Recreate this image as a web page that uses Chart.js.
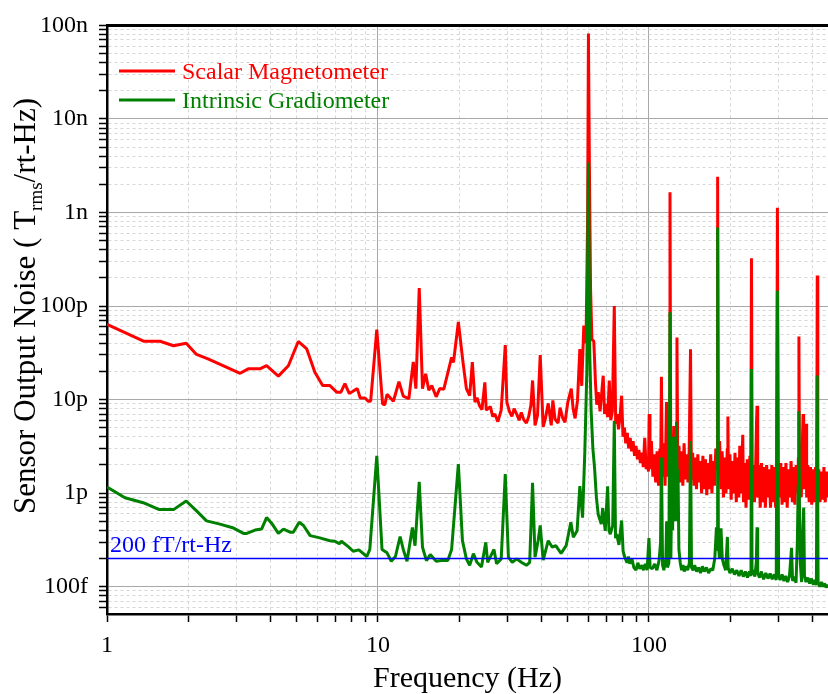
<!DOCTYPE html>
<html>
<head>
  <meta charset="utf-8">
  <title>Sensor Output Noise</title>
  <script src="https://cdn.jsdelivr.net/npm/chart.js@4"></script>
  <style>
    body { margin: 0; background: #fff; }
    #wrap { width: 828px; height: 694px; }
  </style>
</head>
<body>
  <div id="wrap"><canvas id="noiseChart" width="828" height="694"></canvas></div>

  <script>
    // noise values are in fT/rt-Hz, frequencies in Hz
    const redFreq = [
      1.0, 1.37, 1.57, 1.76, 1.96, 2.14, 2.37, 3.1, 3.32, 3.67, 3.88, 4.29, 4.67, 5.08, 5.46, 5.85, 6.25, 6.65,
      7.04, 7.3, 7.55, 7.84, 8.39, 8.6, 8.96, 9.2, 9.4, 9.9, 10.4, 10.6, 10.8, 11.4, 11.95, 12.4, 13.0, 13.5,
      13.8, 14.2, 14.6, 15.0, 15.4, 15.8, 16.4, 16.9, 17.5, 18.7, 19.0, 19.8, 20.6, 21.2, 21.8, 22.3, 22.8,
      23.2, 23.7, 24.2, 24.8, 25.1, 26.0, 26.5, 27.0, 27.7, 28.5, 29.5, 29.9, 30.6, 31.2, 31.8, 32.5, 33.2,
      33.8, 34.5, 35.3, 36.0, 36.7, 37.2, 38.0, 38.8, 39.7, 40.7, 41.5, 42.5, 43.6, 44.2, 45.0, 46.2, 47.0,
      48.1, 49.0, 50.2, 51.7, 52.5, 53.4, 54.5, 55.6, 56.5, 57.5, 58.6, 59.4, 59.8, 60.3, 60.9, 61.6, 62.6,
      63.5, 64.2, 65.0, 66.0, 66.8, 67.8, 68.6, 69.5, 70.4, 71.4, 72.3, 73.3, 74.5, 75.4, 76.3, 77.2, 78.2,
      79.3, 80.2, 81.2, 82.1, 83.2, 84.2, 85.3, 86.3, 87.4, 88.5, 89.6, 90.7, 91.8, 93.0, 94.2, 95.3, 96.5,
      97.7, 98.9, 99.6, 100.2, 100.9, 102.1, 103.4, 104.6, 105.9, 107.2, 108.5, 109.8, 110.4, 111.2, 112.0,
      113.3, 114.7, 116.1, 117.5, 118.8, 119.6, 120.4, 121.4, 122.5, 123.6, 124.8, 126.0, 126.9, 127.8, 129.1,
      130.5, 131.9, 133.4, 134.8, 136.3, 137.8, 139.3, 140.8, 142.4, 143.5, 145.0, 146.6, 148.2, 149.8, 151.5,
      153.1, 154.8, 156.5, 158.2, 160.0, 161.7, 163.5, 165.3, 167.1, 169.0, 170.8, 172.7, 174.6, 176.5, 178.4,
      179.3, 180.3, 182.3, 184.3, 186.3, 188.4, 190.4, 192.5, 194.6, 195.6, 196.8, 199.0, 201.1, 203.3, 205.6,
      207.8, 210.1, 212.4, 214.7, 216.4, 218.1, 220.5, 222.0, 223.3, 225.7, 228.2, 230.7, 233.2, 235.8, 237.5,
      239.0, 240.5, 242.5, 245.2, 247.9, 249.4, 250.6, 252.0, 254.7, 257.5, 260.3, 263.2, 266.1, 269.0, 271.9,
      274.9, 277.9, 281.0, 284.1, 287.2, 290.3, 293.5, 296.0, 298.0, 300.0, 303.3, 306.6, 310.0, 313.4, 316.8,
      320.3, 323.8, 327.4, 331.0, 334.6, 338.3, 342.0, 345.7, 349.5, 353.3, 356.2, 357.7, 359.5, 362.0, 365.0,
      368.0, 370.5, 372.5, 376.5, 380.0, 382.0, 386.0, 390.3, 394.6, 398.9, 403.3, 407.7, 412.2, 416.0, 418.0,
      420.0, 423.5, 428.1, 432.8, 437.6, 442.4, 447.3, 452.2, 457.2, 462.0
    ];
    const redNoise = [
      63700, 42000, 42000, 37600, 40000, 30400, 27100, 19100, 21300, 21300, 23000, 17800, 23000, 41800, 34800, 19600, 14100, 14100,
      12000, 12000, 14800, 11600, 13100, 10400, 10400, 9600, 9600, 56000, 9000, 8800, 11400, 9600, 15500, 10900, 10200, 25200,
      13100, 156000, 13100, 18900, 12600, 14100, 10700, 13100, 12900, 28200, 25000, 67500, 25000, 13100, 11000, 25200, 9400,
      10500, 8600, 7800, 15300, 7700, 8400, 6600, 7000, 5800, 7700, 38200, 9400, 7400, 6600, 8000, 7000, 6000,
      7300, 6100, 5600, 6600, 8800, 16000, 5300, 6800, 29900, 5100, 6300, 9100, 5300, 9800, 6200, 5600, 8200,
      6300, 5700, 9400, 13100, 8000, 6300, 9800, 34600, 14000, 62000, 40000, 900000, 81700000, 3000000, 150000, 44000, 42000,
      15000, 8800, 12000, 7500, 11000, 18000, 7000, 9000, 6500, 16000, 6000, 7500, 100000, 5500, 7000, 4800, 6500,
      11000, 4000, 5000, 3400, 4400, 3000, 3900, 2800, 3600, 2500, 3200, 2300, 2900, 2100, 2700, 1900, 3900,
      1800, 2400, 1700, 7000, 1800, 3600, 1500, 2600, 1300, 2800, 1200, 3000, 1400, 17500, 1500,
      3400, 1200, 9400, 1500, 2500, 1650000, 2200, 4000, 1300, 5200, 1500, 3000, 46000, 1600, 3200,
      1300, 2800, 1200, 3400, 1400, 2600, 1300, 2900, 34400, 1400, 2700, 1200, 2400, 1100, 2600,
      1300, 2200, 1000, 2500, 1100, 2300, 950, 2100, 1100, 2600, 1000, 2200, 1200, 3000, 1800,
      2410000, 2000, 3600, 1100, 2800, 900, 2400, 1000, 3000, 6600, 1100, 2600, 850, 2200, 1000,
      2700, 800, 2400, 900, 3200, 1000, 2300, 4200, 800, 2100, 700, 2300, 850, 2500, 1000,
      324000, 1200, 2000, 800, 2200, 5500, 8600, 900, 2000, 700, 2100, 800, 1900, 700, 2000,
      900, 1800, 700, 2000, 800, 1900, 700, 2200, 1120000, 1500, 900, 2100, 750, 1900, 800,
      2100, 700, 1800, 900, 2200, 800, 1900, 750, 2000, 1000, 2400, 47200, 1200, 2600, 900,
      3000, 7000, 1100, 2500, 5500, 900, 2000, 800, 1900, 750, 1800, 800, 1900, 900, 212000,
      1100, 1800, 800, 1700, 850, 1900, 800, 1700, 900, 1500
    ];

    const greenFreq = [
      1.0, 1.165, 1.36, 1.56, 1.76, 1.96, 2.14, 2.33, 2.61, 2.93, 3.19, 3.28, 3.52, 3.72, 3.88, 4.05, 4.29, 4.48,
      4.74, 4.87, 5.12, 5.31, 5.62, 6.1, 6.65, 6.94, 7.2, 7.33, 7.77, 8.1, 8.5, 9.1, 9.33, 9.9, 10.35, 10.8,
      11.2, 11.6, 12.07, 12.4, 12.8, 13.4, 13.7, 14.2, 14.6, 15.1, 15.6, 16.4, 17.4, 18.1, 18.7, 19.8, 20.5,
      21.2, 21.8, 22.5, 23.2, 24.1, 25.0, 25.4, 26.8, 27.4, 28.5, 29.5, 30.3, 31.3, 32.5, 33.8, 35.3, 36.3,
      37.2, 38.0, 39.0, 39.7, 40.7, 42.5, 44.0, 45.3, 47.4, 49.5, 51.5, 52.6, 54.3, 55.6, 56.9, 58.0, 59.0,
      59.8, 60.5, 61.2, 62.1, 63.0, 64.0, 65.0, 66.7, 67.5, 69.0, 70.4, 71.2, 72.0, 73.5, 74.5, 75.3, 76.0,
      77.5, 79.3, 80.3, 81.5, 83.0, 84.0, 85.0, 86.5, 88.0, 89.6, 91.0, 92.5, 94.2, 95.5, 97.0, 98.5, 100.0,
      101.0, 103.0, 105.0, 107.0, 109.0, 110.4, 111.2, 112.3, 113.5, 115.5, 116.2, 117.0, 118.5, 119.6, 120.5,
      121.5, 122.3, 123.0, 123.8, 124.6, 125.5, 126.4, 127.2, 128.0, 129.0, 130.5, 132.0, 133.5, 135.0, 137.0,
      139.0, 141.0, 142.4, 143.6, 145.5, 147.5, 150.0, 152.5, 155.0, 157.5, 160.0, 163.0, 166.0, 169.0, 172.0,
      175.0, 177.5, 178.5, 179.3, 180.4, 182.0, 184.5, 186.5, 189.0, 192.0, 194.8, 196.0, 199.0, 203.0, 207.0,
      211.0, 215.0, 219.0, 223.0, 227.0, 231.0, 235.0, 238.0, 239.0, 240.2, 243.0, 246.0, 249.0, 250.6, 252.0,
      256.0, 260.0, 265.0, 270.0, 275.0, 280.0, 285.0, 290.0, 295.0, 298.0, 301.0, 305.0, 310.0, 315.0, 320.0,
      325.0, 330.0, 336.0, 339.0, 344.0, 349.0, 353.0, 355.5, 357.7, 359.5, 362.0, 366.0, 370.0, 372.5, 375.0,
      380.0, 386.0, 392.0, 398.0, 404.0, 410.0, 415.0, 418.0, 421.0, 427.0, 433.0, 439.0, 445.0, 451.0, 457.0,
      462.0
    ];
    const greenNoise = [
      1160, 891, 789, 666, 666, 823, 645, 505, 466, 423, 371, 371, 403, 413, 547, 477, 371, 413,
      382, 382, 488, 451, 351, 332, 310, 306, 287, 306, 268, 239, 247, 210, 250, 2500, 250, 230,
      187, 210, 342, 250, 187, 429, 274, 1318, 264, 190, 220, 187, 192, 190, 250, 2044, 310,
      198, 169, 225, 182, 162, 298, 182, 250, 176, 198, 1601, 207, 182, 198, 182, 169, 182,
      1286, 207, 310, 451, 192, 310, 264, 274, 227, 274, 488, 337, 395, 1186, 547, 2785, 20000,
      3430000, 30000, 7600, 3000, 1860, 900, 590, 466, 690, 395, 1180, 400, 364, 450, 5900, 330, 364,
      280, 510, 240, 205, 180, 210, 176, 200, 160, 150, 180, 155, 169, 150, 175, 150, 330,
      160, 156, 175, 150, 190, 300, 2400, 170, 150, 200, 500, 160, 180, 86000, 200,
      1500, 400, 4000, 800, 2500, 500, 5800, 900, 1800, 250, 180, 150, 170, 145, 165,
      150, 180, 3600, 160, 150, 170, 145, 160, 140, 165, 145, 160, 140, 155, 150,
      200, 430, 250, 690000, 300, 200, 420, 200, 170, 150, 340, 160, 140, 155, 135,
      150, 130, 150, 128, 145, 125, 145, 130, 21200, 135, 150, 128, 180, 430, 140,
      125, 145, 120, 140, 122, 138, 120, 135, 118, 146000, 130, 118, 135, 115, 130,
      112, 128, 260, 115, 128, 110, 300, 1200, 7500, 700, 180, 112, 400, 700, 130,
      112, 125, 108, 122, 105, 118, 104, 18100, 110, 100, 112, 100, 108, 98, 104,
      100
    ];

    const floorLevel = 200; // 200 fT/rt-Hz reference line
    const floorLabel = '200 fT/rt-Hz';
    const seriesLabels = ['Scalar Magnetometer', 'Intrinsic Gradiometer'];

    // axis ticks
    const xTicks = [1, 2, 3, 4, 5, 6, 7, 8, 9, 10, 20, 30, 40, 50, 60, 70, 80, 90, 100, 200, 300, 400];
    const xMajorTicks = [1, 10, 100];
    const yMajorTicks = [100, 1e3, 1e4, 1e5, 1e6, 1e7, 1e8];
    const yMajorLabels = ['100f', '1p', '10p', '100p', '1n', '10n', '100n'];

    const yTicks = [60, 70, 80, 90];
    yMajorTicks.slice(0, -1).forEach(d => {
      for (let m = 1; m <= 9; m++) yTicks.push(m * d);
    });
    yTicks.push(1e8);

    const serif = "'Liberation Serif', 'Times New Roman', serif";

    function toPoints(xs, ys) {
      return xs.map((x, i) => ({ x: x, y: ys[i] }));
    }

    // grid: major lines solid grey, minor lines dashed light grey
    const gridColor = c => (c.tick && c.tick.major) ? '#a8a8a8' : '#d6d6d6';
    const gridDash = c => (c.type === 'tick' && c.tick && !c.tick.major) ? [3, 3] : [];

    // legend, floor label and the y title with its subscript
    const annotations = {
      id: 'annotations',
      afterDraw(chart) {
        const ctx = chart.ctx;
        const sets = chart.data.datasets;
        ctx.save();

        ctx.font = '24px ' + serif;
        ctx.textAlign = 'left';
        ctx.textBaseline = 'alphabetic';
        [0, 1].forEach((i, row) => {
          const y = 71 + row * 29;
          ctx.strokeStyle = sets[i].borderColor;
          ctx.lineWidth = 3;
          ctx.beginPath();
          ctx.moveTo(119, y);
          ctx.lineTo(175, y);
          ctx.stroke();
          ctx.fillStyle = sets[i].borderColor;
          ctx.fillText(sets[i].label, 182, y + 8);
        });

        const yFloor = chart.scales.y.getPixelForValue(floorLevel);
        ctx.fillStyle = '#0000ff';
        ctx.fillText(floorLabel, 110, yFloor - 6);

        // rotated y axis title
        ctx.translate(35, 306);
        ctx.rotate(-Math.PI / 2);
        ctx.fillStyle = '#000';
        const big = '31px ' + serif;
        const small = '19px ' + serif;
        const partA = 'Sensor Output Noise ( T';
        const partSub = 'rms';
        const partB = '/rt-Hz)';
        ctx.font = big;
        const wA = ctx.measureText(partA).width;
        const wB = ctx.measureText(partB).width;
        ctx.font = small;
        const wSub = ctx.measureText(partSub).width;
        let x0 = -(wA + wSub + wB) / 2;
        ctx.font = big;
        ctx.fillText(partA, x0, 0);
        x0 += wA;
        ctx.font = small;
        ctx.fillText(partSub, x0, 7);
        x0 += wSub;
        ctx.font = big;
        ctx.fillText(partB, x0, 0);

        ctx.restore();
      }
    };

    const noiseChart = new Chart(document.getElementById('noiseChart'), {
      type: 'line',
      data: {
        datasets: [
          {
            label: seriesLabels[0],
            data: toPoints(redFreq, redNoise),
            borderColor: '#ff0000',
            borderWidth: 3,
            order: 3
          },
          {
            label: seriesLabels[1],
            data: toPoints(greenFreq, greenNoise),
            borderColor: '#008000',
            borderWidth: 3,
            order: 2
          },
          {
            label: floorLabel,
            data: [{ x: xTicks[0], y: floorLevel }, { x: 1000, y: floorLevel }],
            borderColor: '#0000ff',
            borderWidth: 1.5,
            order: 1
          }
        ]
      },
      options: {
        responsive: false,
        animation: false,
        events: [],
        elements: {
          point: { radius: 0 },
          line: { tension: 0, borderJoinStyle: 'bevel', fill: false }
        },
        layout: { padding: { top: 20, left: 0, right: 0, bottom: 0 } },
        plugins: {
          legend: { display: false },
          tooltip: { enabled: false }
        },
        scales: {
          x: {
            type: 'logarithmic',
            position: 'bottom',
            min: 1,
            max: 458,
            afterBuildTicks: s => {
              s.ticks = xTicks.map(v => ({ value: v, major: xMajorTicks.includes(v) }));
            },
            afterFit: s => { s.height = 80; },
            ticks: {
              autoSkip: false,
              maxRotation: 0,
              padding: 9,
              color: '#000',
              font: { family: serif, size: 24, lineHeight: 1.2 },
              callback: v => xMajorTicks.includes(v) ? String(v) : ''
            },
            grid: {
              color: gridColor,
              lineWidth: 1,
              tickLength: 8,
              tickColor: '#000',
              tickWidth: 1.5
            },
            border: { display: true, color: '#000', width: 2.5, dash: gridDash },
            title: {
              display: true,
              text: 'Frequency (Hz)',
              color: '#000',
              font: { family: serif, size: 30, lineHeight: 1 },
              padding: 0
            }
          },
          xTop: {
            type: 'linear',
            position: 'top',
            min: 0,
            max: 1,
            afterFit: s => { s.height = 0; },
            ticks: { display: false },
            grid: { display: false, drawTicks: false },
            border: { display: true, color: '#000', width: 3 }
          },
          y: {
            type: 'logarithmic',
            position: 'left',
            min: 51,
            max: 1e8,
            afterBuildTicks: s => {
              s.ticks = yTicks.map(v => ({ value: v, major: yMajorTicks.includes(v) }));
            },
            afterFit: s => { s.width = 107; },
            ticks: {
              autoSkip: false,
              padding: 11,
              color: '#000',
              font: { family: serif, size: 24 },
              callback: v => {
                const k = yMajorTicks.indexOf(v);
                return k >= 0 ? yMajorLabels[k] : '';
              }
            },
            grid: {
              color: gridColor,
              lineWidth: 1,
              tickLength: 8,
              tickColor: '#000',
              tickWidth: 1.5
            },
            border: { display: true, color: '#000', width: 2.5, dash: gridDash },
            title: { display: false }
          }
        }
      },
      plugins: [annotations]
    });
  </script>
</body>
</html>
